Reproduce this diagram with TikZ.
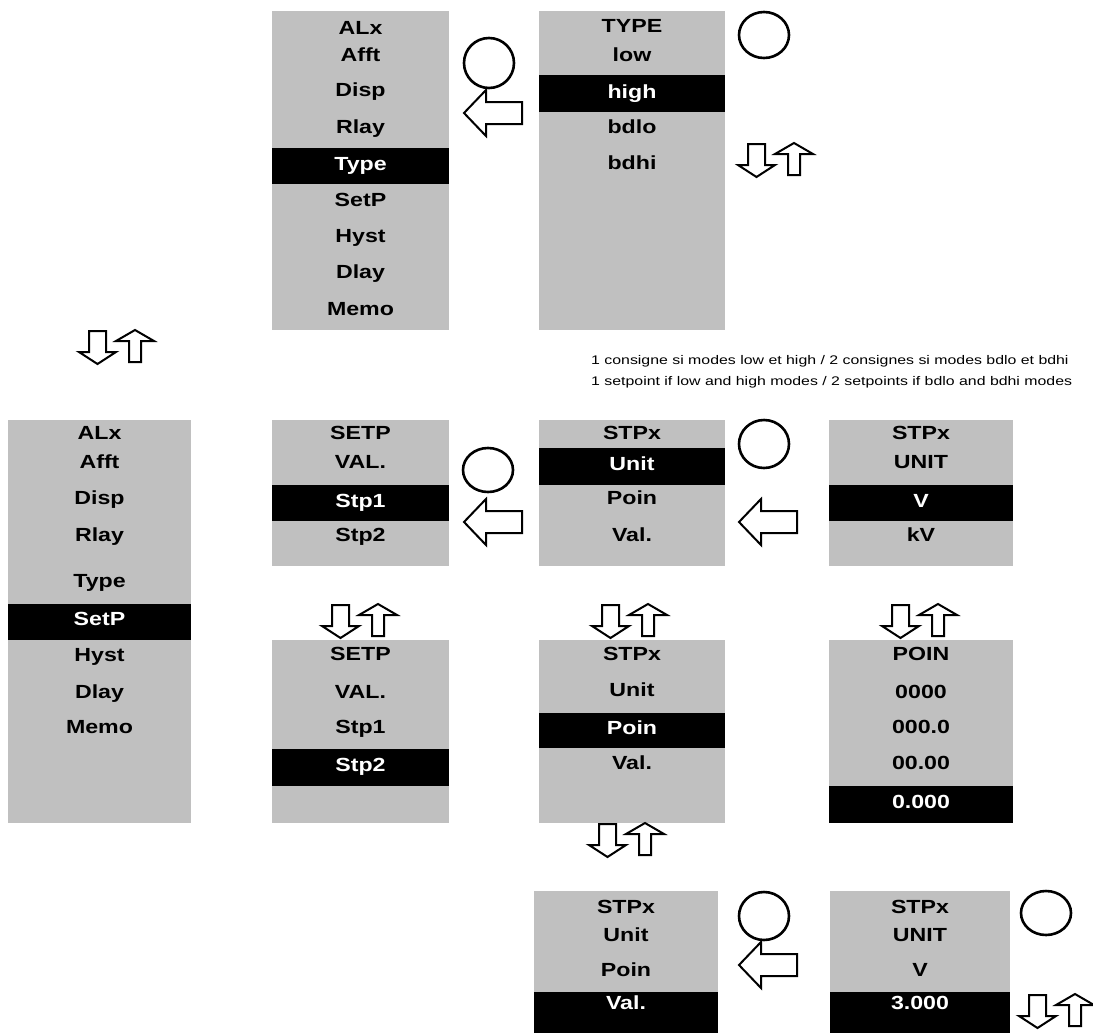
\documentclass[tikz,border=0pt]{standalone}
\usepackage{fontspec}
\setmainfont{Liberation Sans}
\newfontfamily\panelfont{Liberation Sans}[FakeStretch=1.22]
\newfontfamily\notefont{Liberation Sans}[FakeStretch=1.27]
\definecolor{panelgray}{RGB}{192,192,192}
\begin{document}
\begin{tikzpicture}[x=1pt,y=-1pt,
  panel/.style={fill=panelgray},
  hl/.style={fill=black},
  lbl/.style={font=\panelfont\fontsize{19}{19}\selectfont\bfseries, inner sep=0pt, text height=13.6pt, text depth=0pt, anchor=center},
  hlt/.style={lbl, text=white},
  note/.style={font=\notefont\fontsize{12.5}{12.5}\selectfont, inner sep=0pt, anchor=west},
  knob/.style={draw=black, line width=2.6pt},
  backarrow/.pic={\draw[line width=2pt, fill=white, line join=miter]
     (0,0) -- (22,-23) -- (22,-11) -- (58,-11) -- (58,11) -- (22,11) -- (22,23) -- cycle;},
  updownpair/.pic={
     \draw[line width=2pt, fill=white, line join=miter]
       (-28,-16) -- (-11,-16) -- (-11,5) -- (-1,5) -- (-19.5,17) -- (-38,5) -- (-28,5) -- cycle;
     \draw[line width=2pt, fill=white, line join=miter]
       (12,15) -- (24,15) -- (24,-6) -- (37,-6) -- (18,-17) -- (-1,-6) -- (12,-6) -- cycle;}
]
\useasboundingbox (0,0) rectangle (1093,1034);

% ---------- Panel 1 : ALx (top) ----------
\fill[panel] (272,11) rectangle (449,330);
\fill[hl] (272,148) rectangle (449,184);
\node[lbl] (a1) at (360.5,28) {ALx};
\node[lbl] (a2) at (360.5,55) {Afft};
\node[lbl] (a3) at (360.5,90) {Disp};
\node[lbl] (a4) at (360.5,127) {Rlay};
\node[hlt] (a5) at (360.5,164) {Type};
\node[lbl] (a6) at (360.5,200) {SetP};
\node[lbl] (a7) at (360.5,236) {Hyst};
\node[lbl] (a8) at (360.5,272) {Dlay};
\node[lbl] (a9) at (360.5,309) {Memo};

% ---------- Panel 2 : TYPE ----------
\fill[panel] (539,11) rectangle (725,330);
\fill[hl] (539,75) rectangle (725,112);
\node[lbl] (b1) at (632,26) {TYPE};
\node[lbl] (b2) at (632,55) {low};
\node[hlt] (b3) at (632,92) {high};
\node[lbl] (b4) at (632,127) {bdlo};
\node[lbl] (b5) at (632,163) {bdhi};

\draw[knob] (489,63) ellipse [x radius=25pt, y radius=25pt];
\pic at (464,113) {backarrow};
\draw[knob] (764,35) ellipse [x radius=25pt, y radius=23pt];
\pic at (776,160) {updownpair};
\pic at (117,347) {updownpair};

% ---------- notes ----------
\node[note] (n1) at (591,361) {1 consigne si modes low et high / 2 consignes si modes bdlo et bdhi};
\node[note] (n2) at (591,382) {1 setpoint if low and high modes / 2 setpoints if bdlo and bdhi modes};

% ---------- Panel 3 : ALx (bottom) ----------
\fill[panel] (8,420) rectangle (191,823);
\fill[hl] (8,604) rectangle (191,640);
\node[lbl] (c1) at (99.5,433) {ALx};
\node[lbl] (c2) at (99.5,462) {Afft};
\node[lbl] (c3) at (99.5,498) {Disp};
\node[lbl] (c4) at (99.5,535) {Rlay};
\node[lbl] (c5) at (99.5,581) {Type};
\node[hlt] (c6) at (99.5,619) {SetP};
\node[lbl] (c7) at (99.5,655) {Hyst};
\node[lbl] (c8) at (99.5,692) {Dlay};
\node[lbl] (c9) at (99.5,727) {Memo};

% ---------- Panel 4 : SETP Stp1 ----------
\fill[panel] (272,420) rectangle (449,566);
\fill[hl] (272,485) rectangle (449,521);
\node[lbl] (d1) at (360.5,433) {SETP};
\node[lbl] (d2) at (360.5,462) {VAL.};
\node[hlt] (d3) at (360.5,501) {Stp1};
\node[lbl] (d4) at (360.5,535) {Stp2};
\draw[knob] (488,470) ellipse [x radius=25pt, y radius=22pt];
\pic at (464,522) {backarrow};
\pic at (360,621) {updownpair};

% ---------- Panel 5 : SETP Stp2 ----------
\fill[panel] (272,640) rectangle (449,823);
\fill[hl] (272,749) rectangle (449,786);
\node[lbl] (e1) at (360.5,654) {SETP};
\node[lbl] (e2) at (360.5,692) {VAL.};
\node[lbl] (e3) at (360.5,727) {Stp1};
\node[hlt] (e4) at (360.5,765) {Stp2};

% ---------- Panel 6 : STPx Unit ----------
\fill[panel] (539,420) rectangle (725,566);
\fill[hl] (539,448) rectangle (725,485);
\node[lbl] (f1) at (632,433) {STPx};
\node[hlt] (f2) at (632,464) {Unit};
\node[lbl] (f3) at (632,498) {Poin};
\node[lbl] (f4) at (632,535) {Val.};
\draw[knob] (764,444) ellipse [x radius=25pt, y radius=24pt];
\pic at (739,522) {backarrow};
\pic at (630,621) {updownpair};

% ---------- Panel 7 : STPx Poin ----------
\fill[panel] (539,640) rectangle (725,823);
\fill[hl] (539,713) rectangle (725,748);
\node[lbl] (g1) at (632,654) {STPx};
\node[lbl] (g2) at (632,690) {Unit};
\node[hlt] (g3) at (632,728) {Poin};
\node[lbl] (g4) at (632,763) {Val.};
\pic at (627,840) {updownpair};

% ---------- Panel 8 : STPx UNIT V ----------
\fill[panel] (829,420) rectangle (1013,566);
\fill[hl] (829,485) rectangle (1013,521);
\node[lbl] (h1) at (921,433) {STPx};
\node[lbl] (h2) at (921,462) {UNIT};
\node[hlt] (h3) at (921,501) {V};
\node[lbl] (h4) at (921,535) {kV};
\pic at (920,621) {updownpair};

% ---------- Panel 9 : POIN ----------
\fill[panel] (829,640) rectangle (1013,823);
\fill[hl] (829,786) rectangle (1013,823);
\node[lbl] (i1) at (921,654) {POIN};
\node[lbl] (i2) at (921,692) {0000};
\node[lbl] (i3) at (921,727) {000.0};
\node[lbl] (i4) at (921,763) {00.00};
\node[hlt] (i5) at (921,802) {0.000};

% ---------- Panel 10 : STPx Val. ----------
\fill[panel] (534,891) rectangle (718,1033);
\fill[hl] (534,992) rectangle (718,1033);
\node[lbl] (j1) at (626,907) {STPx};
\node[lbl] (j2) at (626,935) {Unit};
\node[lbl] (j3) at (626,970) {Poin};
\node[hlt] (j4) at (626,1003) {Val.};
\draw[knob] (764,916) ellipse [x radius=25pt, y radius=24pt];
\pic at (739,965) {backarrow};

% ---------- Panel 11 : STPx 3.000 ----------
\fill[panel] (830,891) rectangle (1010,1033);
\fill[hl] (830,992) rectangle (1010,1033);
\node[lbl] (k1) at (920,907) {STPx};
\node[lbl] (k2) at (920,935) {UNIT};
\node[lbl] (k3) at (920,970) {V};
\node[hlt] (k4) at (920,1003) {3.000};
\draw[knob] (1046,913) ellipse [x radius=25pt, y radius=22pt];
\pic at (1057,1011) {updownpair};
\end{tikzpicture}
\end{document}
